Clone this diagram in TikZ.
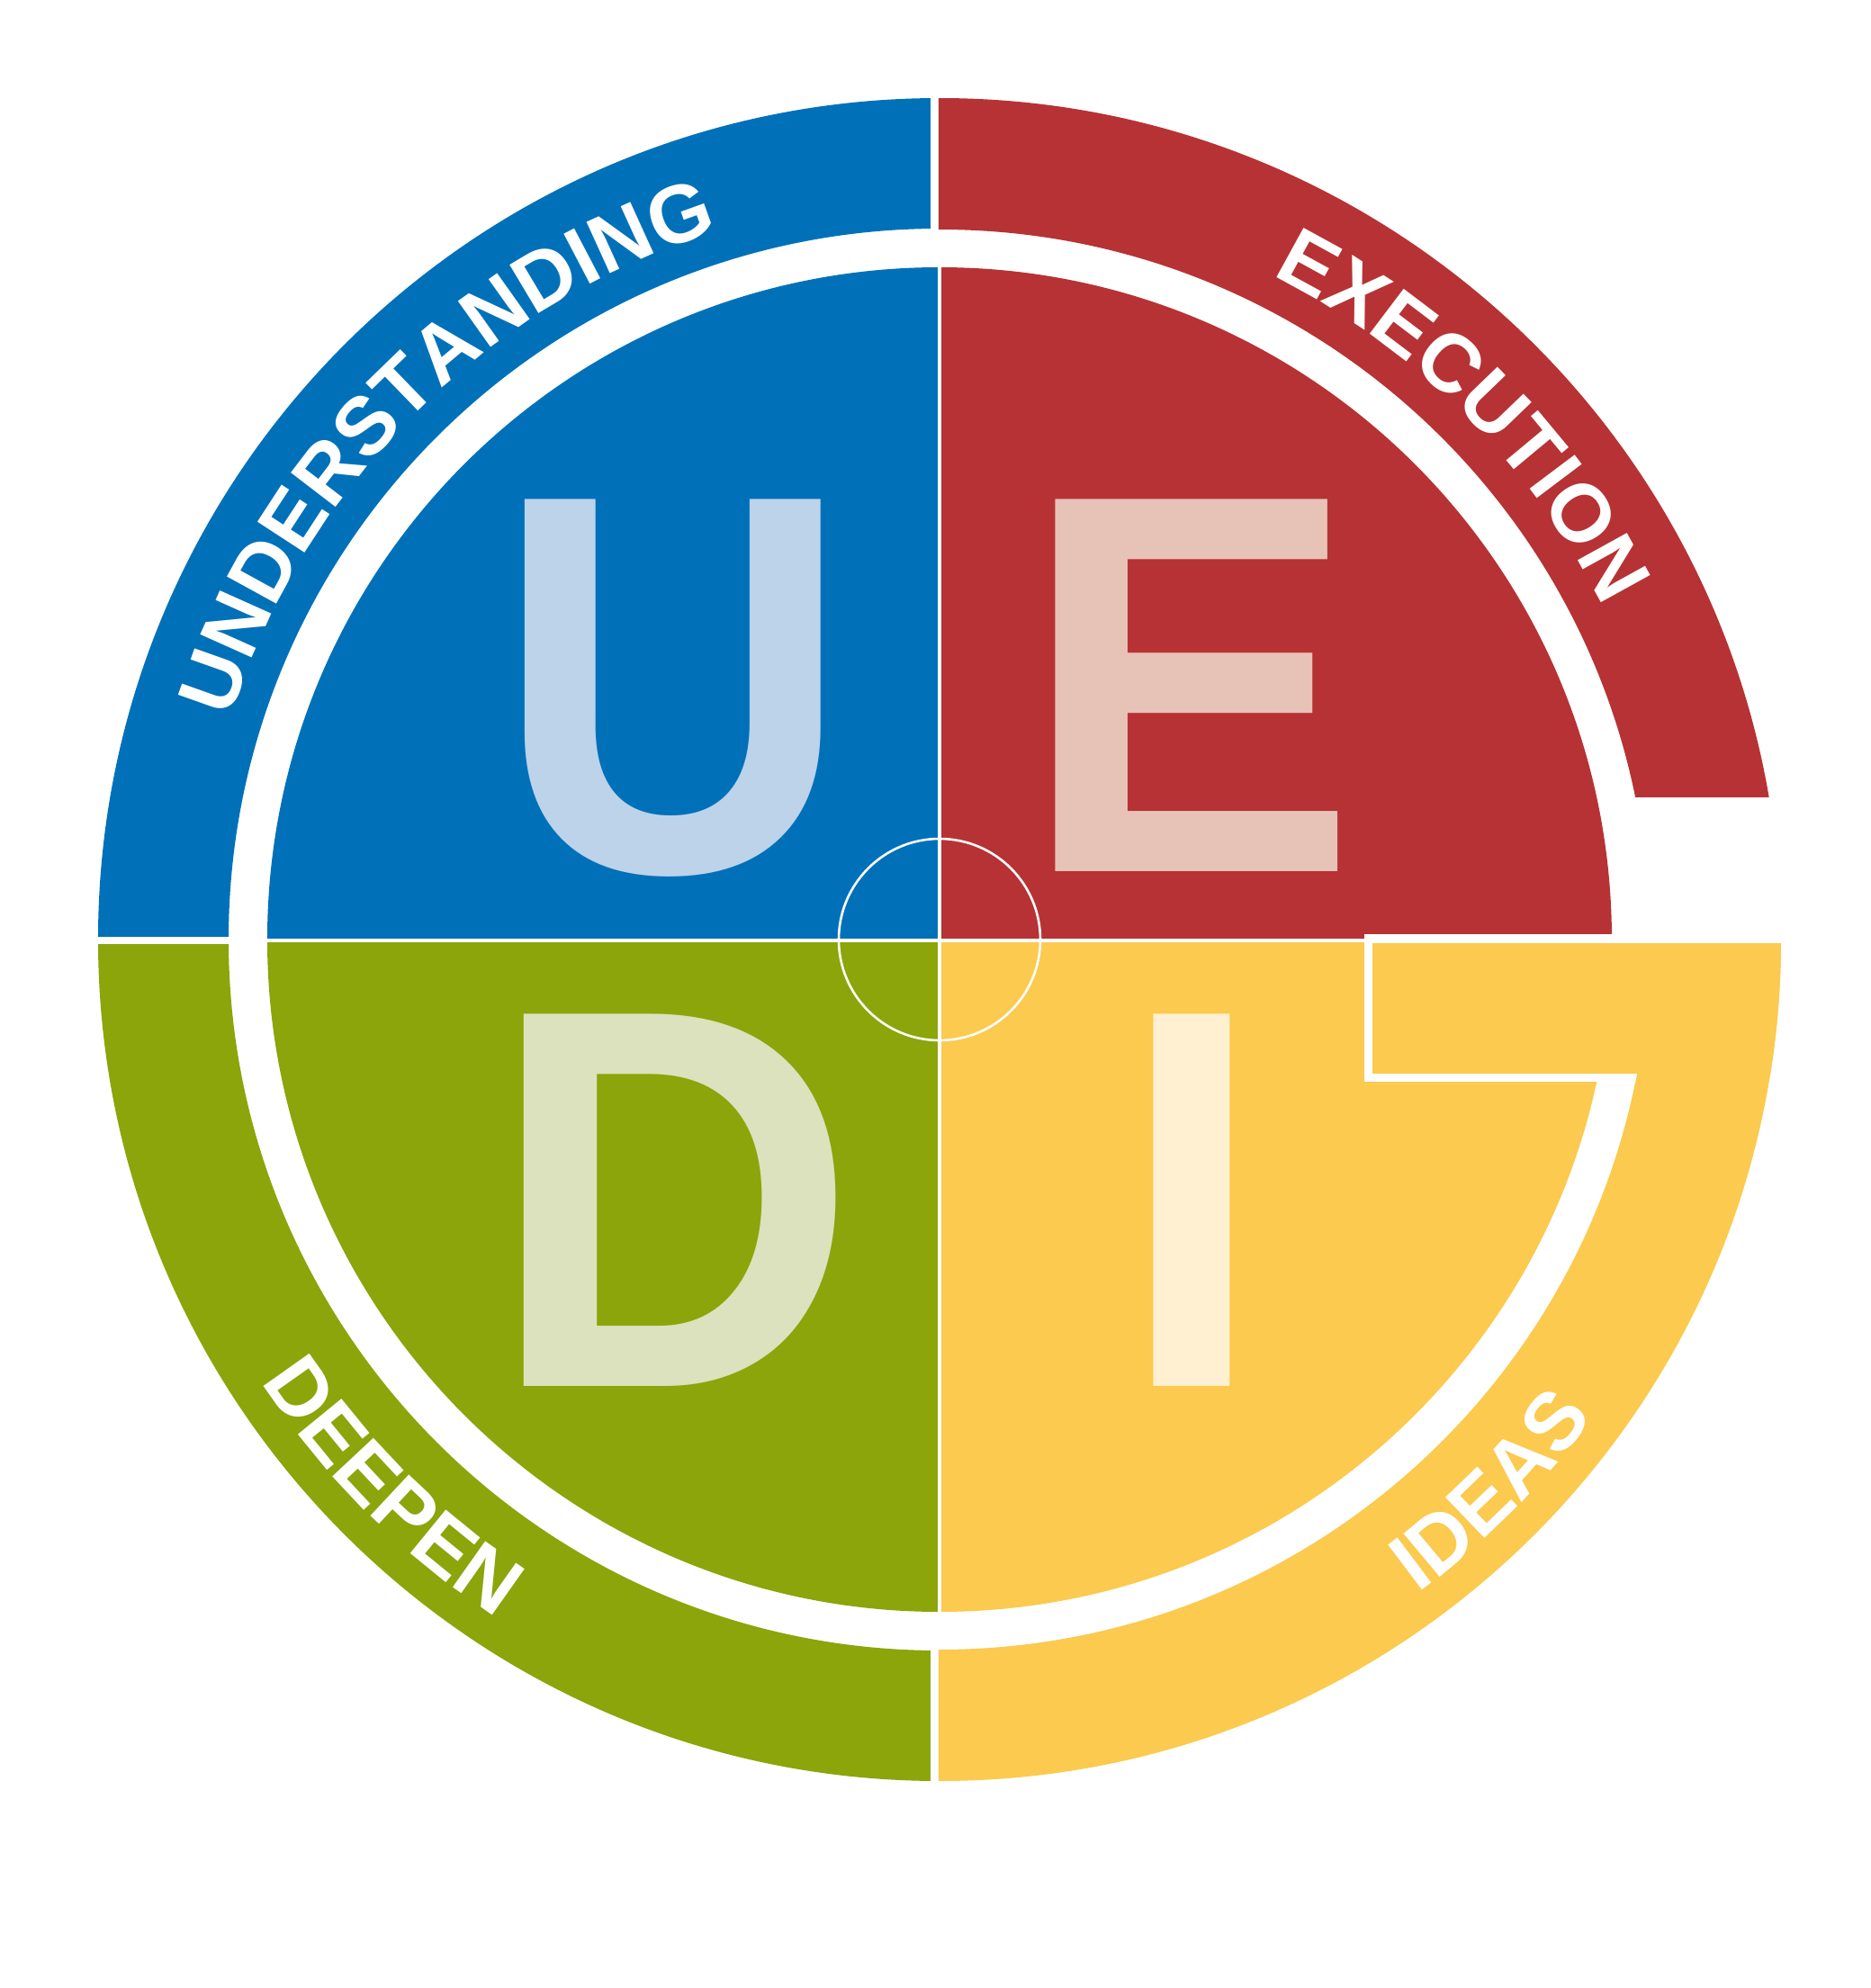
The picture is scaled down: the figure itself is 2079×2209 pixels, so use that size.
\documentclass[tikz,border=0pt]{standalone}
\usepackage{fontspec}
\setmainfont{Liberation Sans}
\usetikzlibrary{decorations.text}
\definecolor{ublue}{HTML}{0071B9}
\definecolor{ered}{HTML}{B73234}
\definecolor{dgreen}{HTML}{8BA50B}
\definecolor{iyellow}{HTML}{FBCA4E}
\definecolor{ublueL}{HTML}{BDD3EA}
\definecolor{eredL}{HTML}{E7C2B7}
\definecolor{dgreenL}{HTML}{DCE2BD}
\definecolor{iyellowL}{HTML}{FEF0D0}
\begin{document}
\begin{tikzpicture}[x=0.25pt,y=0.25pt,
  bigletter/.style={inner sep=0pt, anchor=base, font=\fontsize{150.3}{150.3}\selectfont\bfseries},
  ringtext/.style={decorate, decoration={text along path, text align=center,
     text={|\fontsize{22.75}{22.75}\selectfont\bfseries\color{white}|#1}}},
  ringpart/.style={fill=#1, even odd rule},
]
\fill[white] (-1044,-1165) rectangle (1035,1044);
\useasboundingbox (-1044,-1165) rectangle (1035,1044);
\coordinate (c) at (0,0);

% outer ring segments
\begin{scope}
  \clip (-1100,4) rectangle (-10,1100);
  \path[ringpart=ublue] (c) circle[radius=935] (c) circle[radius=790];
\end{scope}
\begin{scope}
  \clip (-1,159) rectangle (1100,1100);
  \path[ringpart=ered] (c) circle[radius=935] (c) circle[radius=789];
\end{scope}
\begin{scope}
  \clip (-1100,-5) rectangle (-10,-1100);
  \path[ringpart=dgreen] (c) circle[radius=935] (c) circle[radius=790];
\end{scope}
\begin{scope}
  \clip (-1,-4) rectangle (1100,-1100);
  \path[ringpart=iyellow] (c) circle[radius=935] (c) circle[radius=789];
\end{scope}
% yellow bridge
\begin{scope}
  \clip (c) circle[radius=935];
  \fill[iyellow] (481,-4) rectangle (940,-149);
\end{scope}

% inner disc quadrants
\fill[ublue] (c) -- (-747,0) arc[start angle=180,end angle=90,radius=747] -- cycle;
\fill[ered] (c) -- (0,747) arc[start angle=90,end angle=0,radius=747] -- cycle;
\fill[dgreen] (c) -- (-747,0) arc[start angle=180,end angle=270,radius=747] -- cycle;
\fill[iyellow] (c) -- (0,-747) arc[start angle=270,end angle=360,radius=747] -- cycle;

% white separators
\fill[white] (-2.2,750) rectangle (2.2,-750);
\fill[white] (-750,1.5) rectangle (472,-3);
\fill[white] (472,6) rectangle (481,-158);
\begin{scope}
  \clip (c) circle[radius=789];
  \fill[white] (472,-149) rectangle (800,-158);
  \fill[white] (472,6) rectangle (800,-4);
\end{scope}
\draw[white, line width=0.65pt] (c) circle[radius=112];

% big letters
\node[bigletter, text=ublueL, xscale=0.91] (U) at (-296,76) {U};
\node[bigletter, text=eredL, xscale=0.93] (E) at (278,76) {E};
\node[bigletter, text=dgreenL, xscale=0.94] (D) at (-295,-496) {D};
\node[bigletter, text=iyellowL, xscale=0.98] (I) at (280,-496) {I};

% ring texts
\path[ringtext=UNDERSTANDING] (180:825) arc[start angle=180,end angle=90,radius=825];
\path[ringtext=EXECUTION] (90:825) arc[start angle=90,end angle=0,radius=825];
\path[ringtext=DEEPEN] (180:900) arc[start angle=180,end angle=270,radius=900];
\path[ringtext=IDEAS] (270:900) arc[start angle=270,end angle=360,radius=900];
\end{tikzpicture}
\end{document}
